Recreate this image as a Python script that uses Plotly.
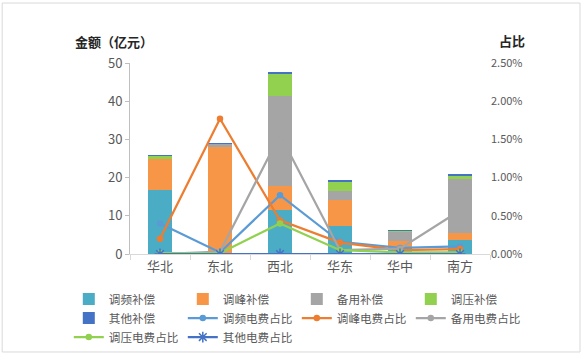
import plotly.graph_objects as go

regions = ["华北", "东北", "西北", "华东", "华中", "南方"]

# 补偿金额（亿元）
freq_comp = [16.8, 0.1, 11.5, 7.3, 1.9, 3.7]
peak_comp = [8.0, 27.8, 6.4, 6.8, 1.6, 1.8]
reserve_comp = [0.0, 0.9, 23.5, 2.4, 2.5, 14.1]
volt_comp = [0.9, 0.2, 5.9, 2.6, 0.1, 0.9]
other_comp = [0.2, 0.05, 0.2, 0.2, 0.1, 0.2]

# 电费占比（%→小数）
freq_ratio = [0.0040, 0.0002, 0.0077, 0.0016, 0.0008, 0.0010]
peak_ratio = [0.0020, 0.0177, 0.0044, 0.0015, 0.0005, 0.00065]
reserve_ratio = [0.0000, 0.0003, 0.0156, 0.0005, 0.0007, 0.0057]
volt_ratio = [0.0001, 0.0001, 0.0040, 0.0005, 0.0002, 0.0002]
other_ratio = [0.0, 0.0, 0.0, 0.0, 0.0, 0.0]

bar_series = [
    ("调频补偿", freq_comp, "#4BACC6"),
    ("调峰补偿", peak_comp, "#F79646"),
    ("备用补偿", reserve_comp, "#A5A5A5"),
    ("调压补偿", volt_comp, "#92D050"),
    ("其他补偿", other_comp, "#4472C4"),
]
line_series = [
    ("调频电费占比", freq_ratio, "#5B9BD5", "circle"),
    ("调峰电费占比", peak_ratio, "#ED7D31", "circle"),
    ("备用电费占比", reserve_ratio, "#A5A5A5", "circle"),
    ("调压电费占比", volt_ratio, "#92D050", "circle"),
    ("其他电费占比", other_ratio, "#4472C4", "asterisk-open"),
]

fig = go.Figure()
for name, vals, col in bar_series:
    fig.add_trace(go.Bar(x=regions, y=vals, name=name, marker=dict(color=col, line=dict(width=0)),
                         yaxis="y"))
for name, vals, col, sym in line_series:
    fig.add_trace(go.Scatter(x=regions, y=vals, name=name, mode="lines+markers",
                             line=dict(color=col, width=2.25),
                             marker=dict(symbol=sym, size=5 if sym == "circle" else 9,
                                         color=col, line=dict(color=col, width=1.5)),
                             yaxis="y2"))

font_family = "Noto Sans CJK SC, Microsoft YaHei, sans-serif"
fig.update_layout(
    width=584, height=364,
    margin=dict(l=130, r=94, t=63, b=110, autoexpand=False),
    paper_bgcolor="white", plot_bgcolor="white",
    barmode="stack", bargap=0.6,
    font=dict(family=font_family, size=12, color="#595959"),
    showlegend=True,
    legend=dict(orientation="h", x=-0.17, xanchor="left", y=-0.16, yanchor="top",
                traceorder="normal", entrywidth=69, entrywidthmode="pixels",
                font=dict(size=11.6, color="#595959"), itemwidth=30,
                tracegroupgap=0, bgcolor="rgba(0,0,0,0)"),
    xaxis=dict(showline=True, linecolor="#D9D9D9", linewidth=1, ticks="outside",
               tickson="boundaries", ticklen=5, tickcolor="#D9D9D9",
               tickfont=dict(size=13, color="#595959"), showgrid=False, fixedrange=True),
    yaxis=dict(range=[0, 50], dtick=10, showline=True, linecolor="#BFBFBF", ticks="outside",
               ticklen=4, tickcolor="#BFBFBF", showgrid=False, zeroline=False,
               tickfont=dict(size=13, color="#595959")),
    yaxis2=dict(range=[0, 0.025], dtick=0.005, tickformat=".2%", overlaying="y", side="right",
                showline=False, showgrid=False, zeroline=False,
                tickfont=dict(size=11, color="#595959")),
    annotations=[
        dict(text="<b>金额（亿元）</b>", xref="paper", yref="paper", x=-0.044, y=1.115,
             xanchor="center", yanchor="middle", showarrow=False,
             font=dict(size=13, color="#262626", family=font_family)),
        dict(text="<b>占比</b>", xref="paper", yref="paper", x=1.061, y=1.12,
             xanchor="center", yanchor="middle", showarrow=False,
             font=dict(size=13, color="#262626", family=font_family)),
    ],
    shapes=[dict(type="rect", xref="paper", yref="paper", x0=-0.355, x1=1.25, y0=-0.513, y1=1.314,
                 line=dict(color="#D9D9D9", width=1), layer="below")],
)

fig.write_html("out.html")
